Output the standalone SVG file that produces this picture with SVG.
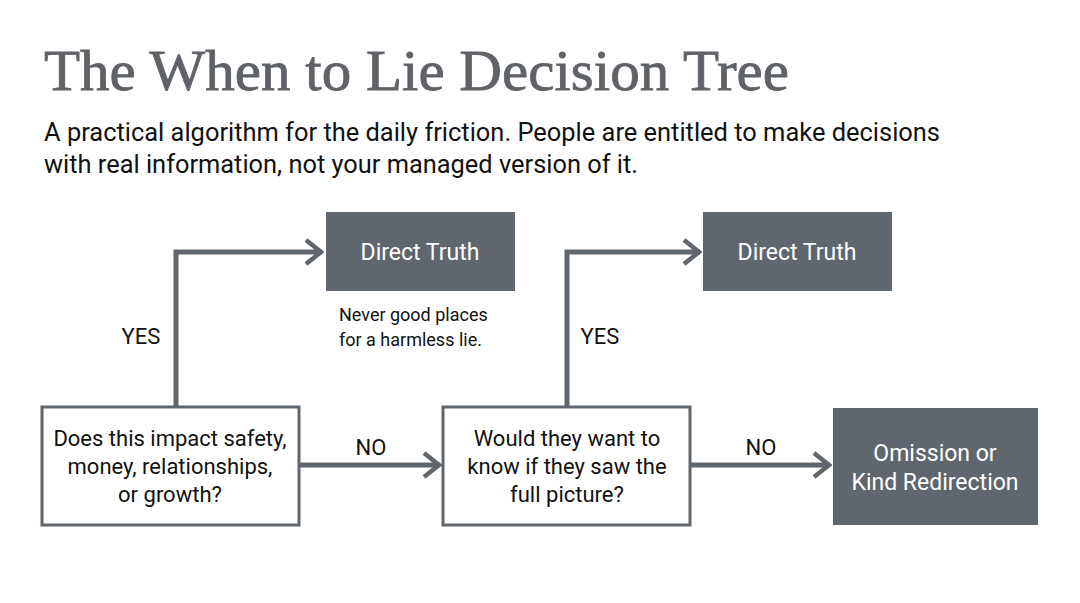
<svg xmlns="http://www.w3.org/2000/svg" width="1080" height="603" viewBox="0 0 1080 603">
<style>
.t{font-family:Roboto,"Liberation Sans",sans-serif;fill:#111}
.box{fill:#fff;stroke:#5f666d;stroke-width:3}
.dark{fill:#5f666d}
.bt{font-family:Roboto,"Liberation Sans",sans-serif;font-size:22px;text-anchor:middle;fill:#111}
.wt{font-family:Roboto,"Liberation Sans",sans-serif;font-size:23px;text-anchor:middle;fill:#fff}
.ln{fill:none;stroke:#5f666d;stroke-width:5}
</style>
<defs>
<marker id="a" markerWidth="24" markerHeight="30" refX="22" refY="15" orient="auto" markerUnits="userSpaceOnUse"><path d="M6,3 L21,15 L6,27" fill="none" stroke="#5f666d" stroke-width="4.5"/></marker></defs>
<rect width="1080" height="603" fill="#fff"/>
<text x="44" y="90" font-family="'Liberation Serif',serif" font-size="58" fill="#5f6368" stroke="#5f6368" stroke-width="0.8" textLength="745" lengthAdjust="spacingAndGlyphs">The When to Lie Decision Tree</text>
<text class="t" x="44" y="141" font-size="25" textLength="896" lengthAdjust="spacingAndGlyphs">A practical algorithm for the daily friction. People are entitled to make decisions</text>
<text class="t" x="44" y="173" font-size="25" textLength="594" lengthAdjust="spacingAndGlyphs">with real information, not your managed version of it.</text>
<g id="connectors">
<path class="ln" d="M176,407 V252 H322" marker-end="url(#a)"/>
<path class="ln" d="M299,465 H440" marker-end="url(#a)"/>
<path class="ln" d="M567,407 V252 H700" marker-end="url(#a)"/>
<path class="ln" d="M690,465 H830" marker-end="url(#a)"/>
<text class="t" x="141" y="344" font-size="22" text-anchor="middle">YES</text>
<text class="t" x="371" y="455" font-size="22" text-anchor="middle">NO</text>
<text class="t" x="600" y="344" font-size="22" text-anchor="middle">YES</text>
<text class="t" x="761" y="455" font-size="22" text-anchor="middle">NO</text>
</g>
<g id="q1"><rect class="box" x="42" y="407" width="257" height="118"/>
<text class="bt" x="170" y="446">Does this impact safety,</text><text class="bt" x="170" y="474">money, relationships,</text><text class="bt" x="170" y="502">or growth?</text></g>
<g id="q2"><rect class="box" x="443" y="407" width="247" height="118"/>
<text class="bt" x="567" y="446">Would they want to</text><text class="bt" x="567" y="474">know if they saw the</text><text class="bt" x="567" y="502">full picture?</text></g>
<g id="omit"><rect class="dark" x="833" y="408" width="205" height="117"/>
<text class="wt" x="935" y="461">Omission or</text><text class="wt" x="935" y="490">Kind Redirection</text></g>
<g id="dt1"><rect class="dark" x="326" y="212" width="189" height="79"/><text class="wt" x="420" y="260">Direct Truth</text></g>
<g id="dt2"><rect class="dark" x="703" y="212" width="189" height="79"/><text class="wt" x="797" y="260">Direct Truth</text></g>
<g id="note"><text class="t" x="339" y="321" font-size="18">Never good places</text><text class="t" x="339" y="346" font-size="18">for a harmless lie.</text></g>
</svg>
